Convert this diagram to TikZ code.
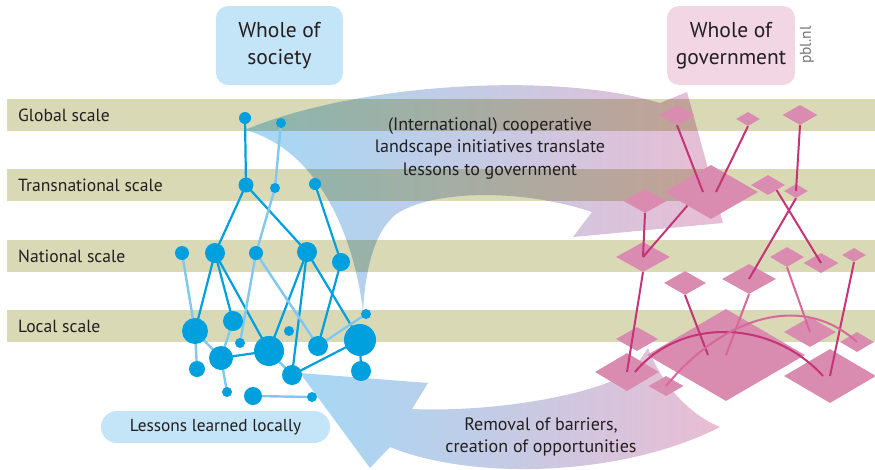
\documentclass[tikz,border=0pt]{standalone}
\usepackage{fontspec}
\setmainfont{PT Sans}
\usetikzlibrary{shapes.geometric}
\definecolor{bandcol}{RGB}{217,217,182}
\definecolor{txt}{RGB}{35,31,32}
\definecolor{bblue}{RGB}{0,160,223}
\definecolor{blightc}{RGB}{128,200,240}
\definecolor{arrblue}{RGB}{164,216,245}
\definecolor{arrpink}{RGB}{233,189,211}
\definecolor{boxblue}{RGB}{196,229,248}
\definecolor{boxpink}{RGB}{242,214,228}
\definecolor{pfill}{RGB}{218,139,176}
\definecolor{pdarkc}{RGB}{196,52,118}
\definecolor{plightc}{RGB}{214,104,154}
\pgfdeclarelayer{bandlayer}
\pgfdeclarelayer{arrowlayer}
\pgfdeclarelayer{edgelayer}
\pgfdeclarelayer{front}
\pgfsetlayers{bandlayer,arrowlayer,edgelayer,main,front}
\begin{document}
\begin{tikzpicture}[x=1pt,y=-1pt,
  bandbar/.style={fill=bandcol,draw=none},
  bandtext/.style={anchor=west,font=\fontsize{17.6}{20}\selectfont,text=txt,inner sep=0pt},
  bodytext/.style={align=center,font=\fontsize{18}{22.5}\selectfont,text=txt,inner sep=0pt},
  bn/.style={circle,fill=bblue,inner sep=0pt,draw=none},
  bdark/.style={draw=bblue,line width=2.2pt},
  blite/.style={draw=blightc,line width=2.4pt},
  dia/.style={diamond,fill=pfill,inner sep=0pt,draw=none},
  pdark/.style={draw=pdarkc,line width=2pt},
  plite/.style={draw=plightc,line width=2pt},
  bigbox/.style={rounded corners=12pt,inner sep=0pt,align=center,text=txt,
     font=\fontsize{21.5}{27}\selectfont}
]
\useasboundingbox (0,0) rectangle (875,469);

% scale bands
\begin{pgfonlayer}{bandlayer}
\path[bandbar] (7,99) rectangle (875,131);
\path[bandbar] (7,169) rectangle (875,201);
\path[bandbar] (7,240) rectangle (875,272);
\path[bandbar] (7,310) rectangle (875,342);
\end{pgfonlayer}

% big arrows
\begin{pgfonlayer}{arrowlayer}
\begin{scope}[blend mode=multiply]
\clip (0,0) rectangle (875,469);
\path[left color=arrblue,right color=arrpink]
  (245,130) .. controls (350,85) and (550,70) .. (660,103)
  -- (687,92) -- (723,223) -- (573,237) -- (592,212)
  .. controls (520,188) and (430,190) .. (395,215)
  .. controls (372,235) and (365,275) .. (363,312)
  .. controls (355,240) and (320,150) .. (245,130) -- cycle;
\path[left color=arrblue,right color=arrpink]
  (300,373) -- (428,383) -- (412,409)
  .. controls (480,412) and (580,400) .. (632,372)
  -- (648,348)
  .. controls (662,385) and (690,415) .. (720,427)
  .. controls (620,478) and (470,480) .. (390,447)
  -- (370,468) -- cycle;
\end{scope}
\end{pgfonlayer}

% boxes
\node[bigbox,fill=boxblue,minimum width=127pt,minimum height=79pt] (soc) at (279.5,45.5) {Whole of\\society};
\node[bigbox,fill=boxpink,minimum width=128pt,minimum height=79pt] (gov) at (731,45.5) {Whole of\\government};
\node[rotate=90,text=black!55,font=\fontsize{15.5}{17}\selectfont,inner sep=0pt] (pbl) at (807,45) {pbl.nl};
\node[rounded corners=16pt,fill=boxblue,minimum width=229pt,minimum height=32pt,inner sep=0pt,
  text=txt,font=\fontsize{17.3}{20}\selectfont] (loc) at (215.5,427) {Lessons learned locally};

% band labels
\node[bandtext] (lg) at (18,115) {Global scale};
\node[bandtext] (lt) at (18,185) {Transnational scale};
\node[bandtext] (ln) at (18,256) {National scale};
\node[bandtext] (ll) at (18,326) {Local scale};

% blue network nodes
\foreach \n/\x/\y/\r in {1/245/118/6,2/281/123/5,3/246/185/7.5,4/275/188/5,5/315/184/6,
  6/182/253/7,7/215/253/10,8/256/253/7,9/307/252/10,10/341/262/9,
  11/195/331/13,12/233/321/10,13/240/343/5,14/289/331/5,15/269/351/15,
  16/318/346/10,17/360/340/16,18/366/314/5,19/197/369/8,20/221/358/12,
  21/292/375/10,22/361/371/10,23/227/392/5,24/253/396/9,25/312/397/5}
  \node[bn,minimum size=2*\r pt] (b\n) at (\x,\y) {};

\begin{pgfonlayer}{edgelayer}
\foreach \a/\b in {1/3,3/7,3/9,5/10,7/11,7/12,7/15,9/15,9/21,9/17,10/16,17/21,17/22,20/15}
  \draw[bdark] (b\a.center) -- (b\b.center);
\foreach \a/\b in {2/4,4/8,8/13,8/16,6/11,11/19,11/20,20/23,16/18,15/21,12/20,24/25}
  \draw[blite] (b\a.center) -- (b\b.center);
\end{pgfonlayer}

% pink network diamonds
\foreach \n/\x/\y/\w/\h in {1/677/115/35/20,2/748/119/24/14,3/800/115/35/20,
  4/711/192/94/54,5/768/185/34/20,6/796/191/24/14,7/645/201/43/24,
  8/643/257/54/30,9/787/257/34/20,10/821/263/35/20,11/854/255/24/14,
  12/685/283/42/24,13/749/279/54/30,15/726/355/158/92,14/637/339/42/24,
  16/810/332/52/30,17/857/342/34/20,18/627/372/64/38,19/666/386/35/20,
  20/830/376/92/54}
  \node[dia,minimum width=\w pt,minimum height=\h pt] (d\n) at (\x,\y) {};

\begin{pgfonlayer}{front}
\draw[pdark] (d1.south) -- ([xshift=-8pt]d4.center);
\draw[pdark] (d2.south) -- ([xshift=5pt]d4.center);
\draw[pdark] (d3.south) -- (d6.center);
\draw[pdark] (d6.south) -- (d13.center);
\draw[pdark] (d5.south east) -- (d10.center);
\draw[pdark] (d7.south) -- (d8.center);
\draw[pdark] (d4.south west) -- (d8.center);
\draw[pdark] (d8.south) -- (d18.center);
\draw[pdark] (d12.south) -- ([xshift=-18pt]d15.center);
\draw[pdark] (d11.south) -- (d20.center);
\draw[plite] (d13.south) -- (d15.center);
\draw[plite] (d9.south) -- (d16.center);
\draw[pdark] ([xshift=8pt]d18.center) .. controls (680,318) and (770,318) .. ([xshift=-7pt]d20.center);
\draw[plite] (d19.center) .. controls (720,320) and (800,290) .. (d17.center);

% arrow texts
\node[bodytext] (t1) at (490,148) {(International) cooperative\\landscape initiatives translate\\lessons to government};
\node[bodytext] (t2) at (541,437) {Removal of barriers,\\creation of opportunities};
\end{pgfonlayer}
\end{tikzpicture}
\end{document}
